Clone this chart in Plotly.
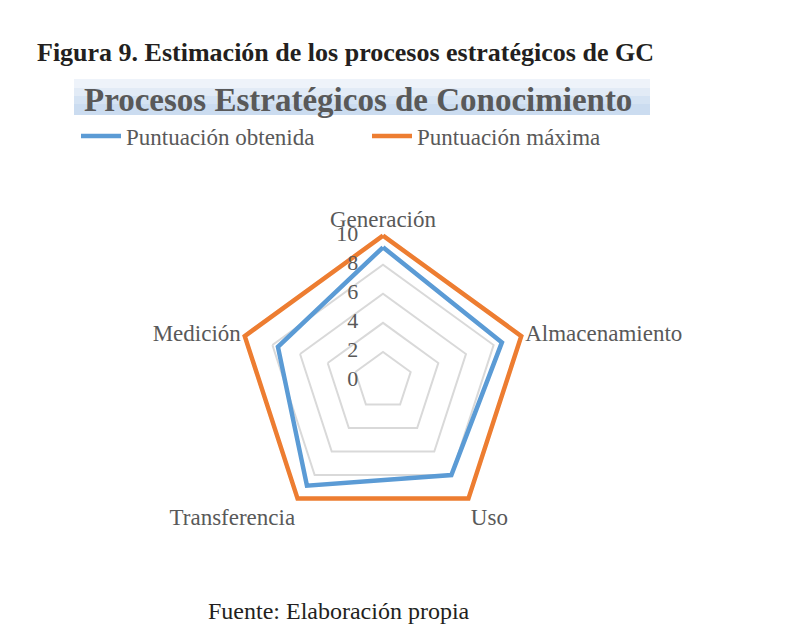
import plotly.graph_objects as go

# ---- data
categories = ["Generación", "Almacenamiento", "Uso", "Transferencia", "Medición"]
puntuacion_obtenida = [9.2, 8.6, 8.0, 8.9, 7.6]
puntuacion_maxima = [10, 10, 10, 10, 10]
radial_ticks = [0, 2, 4, 6, 8, 10]

series = [
	("Puntuación obtenida", puntuacion_obtenida, "#5B9BD5"),
	("Puntuación máxima", puntuacion_maxima, "#ED7D31"),
]

GRAY = "#595959"
SERIF = "Liberation Serif"
BODY = 23

# ---- create figure
fig = go.Figure()

for name, values, color in series:
	fig.add_trace(go.Scatterpolar(
		r = values + values[:1],
		theta = categories + categories[:1],
		mode = "lines",
		name = name,
		cliponaxis = False,
		line = dict(color = color, width = 4.5),
	))

# radial tick labels, drawn on the Generación spoke left of the axis (as in Excel)
# (a point exactly at the pole is dropped by plotly with linear gridshape, so nudge it)
label_r = [t if t > 0 else 0.02 for t in radial_ticks]
fig.add_trace(go.Scatterpolar(
	r = label_r,
	theta = [categories[0]] * len(radial_ticks),
	mode = "markers+text",
	text = [str(t) for t in radial_ticks],
	textposition = "middle left",
	textfont = dict(family = SERIF, size = 22, color = GRAY),
	marker = dict(size = 38, color = "rgba(0,0,0,0)"),
	cliponaxis = False,
	showlegend = False,
	hoverinfo = "skip",
))

# ---- title band (fake gradient with stacked rects)
band = [(71, 107, "#eef3fa"), (80, 107, "#e2ebf6"), (88, 107, "#d5e3f3"), (96, 107, "#cbdcf0")]
for y0, y1, c in band:
	fig.add_shape(type = "rect", xref = "paper", yref = "paper",
		x0 = 66/798, x1 = 642/798, y0 = 1 - y1/630, y1 = 1 - y0/630,
		fillcolor = c, line = dict(width = 0), layer = "below")

fig.add_annotation(
	text = "<b>Figura 9. Estimación de los procesos estratégicos de GC</b>",
	xref = "paper", yref = "paper", x = 27/798, y = 1 - 45/630,
	xanchor = "left", yanchor = "middle", showarrow = False,
	font = dict(family = SERIF, size = 26, color = "#231f20"),
)
fig.add_annotation(
	text = "<b>Procesos Estratégicos de Conocimiento</b>",
	xref = "paper", yref = "paper", x = 350/798, y = 1 - 92/630,
	xanchor = "center", yanchor = "middle", showarrow = False,
	font = dict(family = SERIF, size = 33, color = GRAY),
)
fig.add_annotation(
	text = "Fuente: Elaboración propia",
	xref = "paper", yref = "paper", x = 331/798, y = 1 - 603/630,
	xanchor = "center", yanchor = "middle", showarrow = False,
	font = dict(family = SERIF, size = 24, color = "#231f20"),
)

# ---- update plot layout
cx, cy, rad = 375, 373, 149
fig.update_layout(
	width = 798,
	height = 630,
	paper_bgcolor = "white",
	plot_bgcolor = "white",
	margin = dict(l = 0, r = 0, t = 0, b = 0),
	showlegend = True,
	legend = dict(
		orientation = "h",
		x = 68/798,
		y = 1 - 128/630,
		xanchor = "left",
		yanchor = "middle",
		itemwidth = 40,
		entrywidth = 236,
		entrywidthmode = "pixels",
		font = dict(family = SERIF, size = BODY, color = GRAY),
		bgcolor = "rgba(0,0,0,0)",
	),
	polar = dict(
		domain = dict(x = [(cx - rad)/798, (cx + rad)/798], y = [(630 - cy - rad)/630, (630 - cy + rad)/630]),
		bgcolor = "white",
		gridshape = "linear",
		radialaxis = dict(
			range = [0, 10.25],
			tickvals = radial_ticks,
			angle = 90,
			showticklabels = False,
			showline = False,
			ticks = "",
			gridcolor = "#d9d9d9",
			gridwidth = 1.5,
		),
		angularaxis = dict(
			direction = "clockwise",
			rotation = 90,
			showgrid = False,
			showline = False,
			ticks = "",
			tickfont = dict(family = SERIF, size = BODY, color = GRAY),
		),
	),
)

fig.write_html("out.html")
